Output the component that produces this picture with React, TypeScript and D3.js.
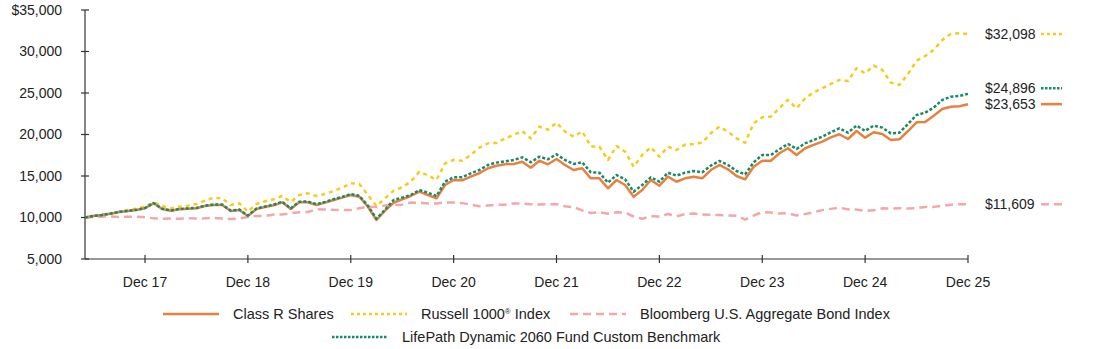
import React from "react";
import * as d3 from "d3";

// ---- Data (monthly, May 2017 .. Dec 2025) ----
const startMonth = new Date(2017, 4, 1);
const monthCount = 104;
const months = d3.timeMonth.range(startMonth, d3.timeMonth.offset(startMonth, monthCount));

const classR = [
  10000, 10180, 10300, 10460, 10660, 10780, 10900, 11110, 11710, 11020, 10820, 10990,
  11060, 11110, 11390, 11510, 11510, 10780, 10900, 10180, 11020, 11270, 11470, 11830,
  11020, 11830, 11830, 11510, 11790, 12110, 12390, 12710, 12510, 11300, 9700, 10820,
  11780, 12190, 12590, 13110, 12710, 12310, 13920, 14520, 14480, 14920, 15330, 15930,
  16240, 16410, 16450, 16720, 16000, 16840, 16410, 17050, 16330, 15720, 15930, 14720,
  14720, 13520, 14520, 13920, 12510, 13310, 14520, 13830, 14920, 14310, 14720, 14920,
  14720, 15720, 16330, 15810, 15000, 14600, 16120, 16840, 16840, 17740, 18340, 17530,
  18340, 18740, 19140, 19660, 20030, 19460, 20420, 19620, 20270, 20060, 19340, 19420,
  20420, 21470, 21510, 22270, 23070, 23350, 23400, 23653,
];

const russell1000 = [
  10000, 10180, 10340, 10500, 10700, 10900, 11060, 11300, 11830, 11390, 11100, 11300,
  11430, 11630, 12030, 12390, 12310, 11510, 11710, 10700, 11630, 11950, 12190, 12590,
  11870, 12710, 12910, 12590, 12830, 13190, 13600, 14120, 14040, 12710, 11390, 12310,
  13230, 13640, 14320, 15520, 15080, 14520, 16530, 16930, 16850, 17530, 18420, 18940,
  18980, 19540, 19940, 20420, 19540, 20950, 20580, 21430, 20340, 19740, 20380, 18540,
  18540, 16930, 18620, 17930, 16130, 17530, 18460, 17330, 18540, 18130, 18780, 18860,
  19020, 20140, 20950, 20340, 19540, 19020, 21350, 22070, 22150, 23190, 24160, 23150,
  24360, 25080, 25570, 26090, 26570, 26450, 27980, 27370, 28300, 27780, 26250, 25970,
  27290, 28900, 29460, 30190, 31390, 32120, 32200, 32098,
];

const bloombergAgg = [
  10000, 10080, 10100, 10120, 10060, 10090, 10100, 10030, 9900, 9850, 9880, 9850,
  9900, 9880, 9900, 9950, 9880, 9830, 9880, 10060, 10180, 10170, 10350, 10350,
  10530, 10640, 10660, 11000, 10960, 10920, 10910, 10900, 11120, 11320, 11250, 11450,
  11510, 11550, 11800, 11780, 11700, 11700, 11810, 11820, 11730, 11550, 11360, 11440,
  11530, 11540, 11690, 11680, 11600, 11560, 11600, 11600, 11350, 11250, 10850, 10550,
  10640, 10460, 10620, 10600, 10120, 9850, 10150, 10110, 10420, 10150, 10410, 10470,
  10360, 10330, 10300, 10240, 10210, 9740, 10240, 10640, 10610, 10470, 10510, 10250,
  10420, 10640, 10890, 11040, 11190, 10980, 10950, 10800, 10860, 11100, 11080, 11120,
  11090, 11130, 11270, 11280, 11410, 11540, 11590, 11609,
];

const customBenchmark = [
  10000, 10190, 10310, 10480, 10680, 10800, 10920, 11140, 11750, 11050, 10850, 11020,
  11090, 11150, 11430, 11560, 11560, 10830, 10950, 10230, 11080, 11330, 11540, 11900,
  11090, 11910, 11920, 11600, 11880, 12200, 12490, 12820, 12620, 11420, 9850, 10950,
  12110, 12400, 12710, 13310, 12990, 12590, 14320, 14840, 14840, 15320, 15720, 16330,
  16610, 16770, 16930, 17250, 16650, 17330, 17010, 17610, 16930, 16450, 16650, 15440,
  15400, 14200, 15120, 14600, 13110, 13920, 14840, 14320, 15400, 15040, 15400, 15600,
  15440, 16250, 16810, 16330, 15600, 15200, 16650, 17530, 17530, 18220, 18860, 18260,
  18940, 19340, 19740, 20260, 20750, 20220, 21070, 20430, 21070, 20830, 20140, 20220,
  21270, 22350, 22630, 23240, 24160, 24560, 24640, 24896,
];

const yTicks = [5000, 10000, 15000, 20000, 25000, 30000, 35000];
const xTickMonths = [7, 19, 31, 43, 55, 67, 79, 91, 103];
const xTickLabels = ["Dec 17", "Dec 18", "Dec 19", "Dec 20", "Dec 21", "Dec 22", "Dec 23", "Dec 24", "Dec 25"];

type Series = { key: string; name: string; values: number[]; color: string; dash: string | null; width: number; legendDash: string | null };

const series: Series[] = [
  { key: "agg", name: "Bloomberg U.S. Aggregate Bond Index", values: bloombergAgg, color: "#F2A7A9", dash: "8,5", width: 2.5, legendDash: "8,5" },
  { key: "r1000", name: "Russell 1000", values: russell1000, color: "#F5CB1C", dash: "4,4", width: 2.5, legendDash: "3,3" },
  { key: "classR", name: "Class R Shares", values: classR, color: "#E8813E", dash: null, width: 2.5, legendDash: null },
  { key: "custom", name: "LifePath Dynamic 2060 Fund Custom Benchmark", values: customBenchmark, color: "#168A6A", dash: "3,2", width: 2.5, legendDash: "2.5,1.5" },
];

const FONT = "Arial, 'Liberation Sans', Helvetica, sans-serif";
const W = 1094;
const H = 349;
const M = { left: 85, right: 968, top: 10, bottom: 259 };

export default function App() {
  const x = d3.scaleLinear().domain([0, months.length - 1]).range([M.left, M.right]);
  const y = d3.scaleLinear().domain([5000, 35000]).range([M.bottom, M.top]);
  const line = d3
    .line<number>()
    .x((_, i) => x(i))
    .y((d) => y(d));

  // end labels with simple collision avoidance
  const ends = series.map((s) => ({ s, v: s.values[s.values.length - 1], y: y(s.values[s.values.length - 1]) }));
  const sorted = [...ends].sort((a, b) => b.y - a.y);
  for (let i = 1; i < sorted.length; i++) {
    if (sorted[i - 1].y - sorted[i].y < 16) sorted[i].y = sorted[i - 1].y - 16;
  }
  const fmt = d3.format(",");

  const legendRow1 = [
    { s: series[2], sx: 163, tx: 233, label: "Class R Shares" },
    { s: series[1], sx: 351, tx: 421, label: "r1000" },
    { s: series[0], sx: 570, tx: 640, label: "Bloomberg U.S. Aggregate Bond Index" },
  ];
  const legendRow2 = [{ s: series[3], sx: 332, tx: 402, label: "LifePath Dynamic 2060 Fund Custom Benchmark" }];
  const LF = 14.5;

  return (
    <svg width={W} height={H} style={{ position: "absolute", left: 0, top: 0, background: "#fff" }} fontFamily={FONT}>
      {/* y axis */}
      <line x1={M.left} x2={M.left} y1={M.top} y2={M.bottom} stroke="#333" strokeWidth={1.2} />
      {yTicks.map((t, i) => (
        <g key={t}>
          <line x1={M.left - 4} x2={M.left + 4} y1={y(t)} y2={y(t)} stroke="#333" strokeWidth={1.2} />
          <text x={62} y={y(t)} dy="0.35em" textAnchor="end" fontSize={14} fill="#222">
            {(i === yTicks.length - 1 ? "$" : "") + fmt(t)}
          </text>
        </g>
      ))}
      {/* x axis */}
      <line x1={M.left} x2={M.right} y1={M.bottom} y2={M.bottom} stroke="#333" strokeWidth={1.2} />
      {xTickMonths.map((m, i) => (
        <g key={m}>
          <line x1={x(m)} x2={x(m)} y1={M.bottom - 4} y2={M.bottom + 4} stroke="#333" strokeWidth={1.2} />
          <text x={x(m)} y={287} textAnchor="middle" fontSize={14} fill="#222">
            {xTickLabels[i]}
          </text>
        </g>
      ))}
      {/* lines */}
      {series.map((s) => (
        <path
          key={s.key}
          d={line(s.values) || ""}
          fill="none"
          stroke={s.color}
          strokeWidth={s.width}
          strokeDasharray={s.dash || undefined}
          strokeLinejoin="round"
        />
      ))}
      {/* end labels */}
      {ends.map((e) => (
        <g key={e.s.key}>
          <text x={985} y={e.y} dy="0.35em" fontSize={14} fill="#222">
            {"$" + fmt(e.v)}
          </text>
          <line x1={1041} x2={1062} y1={e.y} y2={e.y} stroke={e.s.color} strokeWidth={2.5} strokeDasharray={e.s.legendDash || undefined} />
        </g>
      ))}
      {/* legend */}
      {legendRow1.map((it) => (
        <g key={it.s.key}>
          <line x1={it.sx} x2={it.sx + 56} y1={314} y2={314} stroke={it.s.color} strokeWidth={2.5} strokeDasharray={it.s.legendDash || undefined} />
          <text x={it.tx} y={314} dy="0.35em" fontSize={LF} fill="#222">
            {it.label === "r1000" ? (
              <>
                Russell 1000
                <tspan fontSize={8} dy="-5">®</tspan>
                <tspan dy="5"> Index</tspan>
              </>
            ) : (
              it.label
            )}
          </text>
        </g>
      ))}
      {legendRow2.map((it) => (
        <g key={it.s.key}>
          <line x1={it.sx} x2={it.sx + 56} y1={337} y2={337} stroke={it.s.color} strokeWidth={2.5} strokeDasharray={it.s.legendDash || undefined} />
          <text x={it.tx} y={337} dy="0.35em" fontSize={LF} fill="#222">
            {it.label}
          </text>
        </g>
      ))}
    </svg>
  );
}
